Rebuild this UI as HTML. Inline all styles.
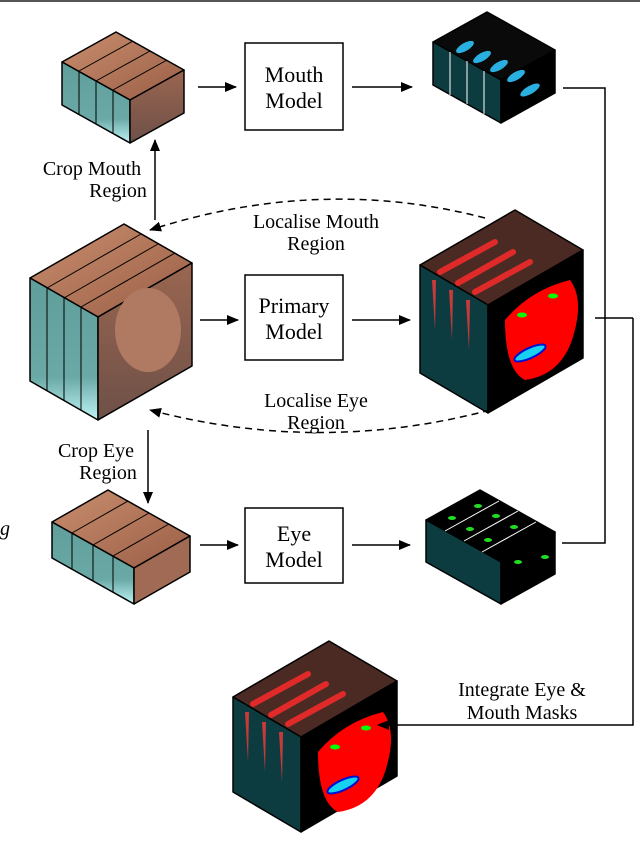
<!DOCTYPE html>
<html><head><meta charset="utf-8"><style>
body{margin:0;background:#fff;}
svg{display:block;font-family:"Liberation Serif",serif;}
</style></head><body>
<svg width="640" height="843" viewBox="0 0 640 843" xmlns="http://www.w3.org/2000/svg">
<defs>
<marker id="ar" markerWidth="12" markerHeight="10" refX="11" refY="5" orient="auto" markerUnits="userSpaceOnUse">
<path d="M0,0 L12,5 L0,10 Z" fill="#000"/></marker>
<linearGradient id="skin" x1="0" y1="0" x2="1" y2="1"><stop offset="0" stop-color="#c98d6e"/><stop offset="1" stop-color="#9a5e46"/></linearGradient>
<linearGradient id="teal" x1="0" y1="0" x2="0" y2="1"><stop offset="0" stop-color="#5f9e9a"/><stop offset="0.7" stop-color="#6aa9a6"/><stop offset="1" stop-color="#bff4f6"/></linearGradient>
<linearGradient id="face" x1="0" y1="0" x2="0" y2="1"><stop offset="0" stop-color="#9a6650"/><stop offset="1" stop-color="#6e5048"/></linearGradient>
</defs>
<line x1="0" y1="1" x2="640" y2="1" stroke="#555" stroke-width="2"/>
<text x="0" y="535" font-size="20" font-style="italic">g</text>

<!-- Input mouth cube L=62,T=62,a=68,b=38,w=54,c=30,h=43 -->
<g stroke="#000" stroke-width="1.5" stroke-linejoin="round">
<polygon points="62,62 130,100 184,70 116,32" fill="url(#skin)"/>
<polygon points="62,62 130,100 130,143 62,105" fill="url(#teal)"/>
<polygon points="130,100 184,70 184,113 130,143" fill="url(#face)"/>
<g stroke-width="1"><line x1="79" y1="71" x2="133" y2="41"/><line x1="96" y1="81" x2="150" y2="51"/><line x1="113" y1="90" x2="167" y2="60"/>
<line x1="79" y1="71" x2="79" y2="114"/><line x1="96" y1="81" x2="96" y2="124"/><line x1="113" y1="90" x2="113" y2="133"/></g>
</g>
<!-- Input primary cube L=30,T=278,a=68,b=39,w=94,c=54,h=103 -->
<g stroke="#000" stroke-width="1.5" stroke-linejoin="round">
<polygon points="30,278 98,317 192,263 124,224" fill="url(#skin)"/>
<polygon points="30,278 98,317 98,420 30,381" fill="url(#teal)"/>
<polygon points="98,317 192,263 192,366 98,420" fill="url(#face)"/>
<ellipse cx="148" cy="330" rx="33" ry="42" fill="#b07a62" stroke="none"/>
<g stroke-width="1"><line x1="47" y1="288" x2="141" y2="234"/><line x1="64" y1="298" x2="158" y2="244"/><line x1="81" y1="307" x2="175" y2="253"/>
<line x1="47" y1="288" x2="47" y2="391"/><line x1="64" y1="298" x2="64" y2="401"/><line x1="81" y1="307" x2="81" y2="410"/></g>
</g>
<!-- Input eye cube L=52,T=522,a=82,b=46,w=56,c=32,h=36 -->
<g stroke="#000" stroke-width="1.5" stroke-linejoin="round">
<polygon points="52,522 134,568 190,536 108,490" fill="url(#skin)"/>
<polygon points="52,522 134,568 134,604 52,558" fill="url(#teal)"/>
<polygon points="134,568 190,536 190,572 134,604" fill="#a06a55"/>
<g stroke-width="1"><line x1="72" y1="533" x2="128" y2="501"/><line x1="93" y1="545" x2="149" y2="513"/><line x1="113" y1="556" x2="169" y2="524"/>
<line x1="72" y1="533" x2="72" y2="569"/><line x1="93" y1="545" x2="93" y2="581"/><line x1="113" y1="556" x2="113" y2="592"/></g>
</g>

<!-- Output mouth cube L=433,T=42 -->
<g stroke="#000" stroke-width="1.5" stroke-linejoin="round">
<polygon points="433,42 501,80 555,50 487,12" fill="#0a0a0a"/>
<polygon points="433,42 501,80 501,123 433,85" fill="#0d3c40"/>
<polygon points="501,80 555,50 555,93 501,123" fill="#000"/>
<g fill="#2ab0e0" stroke="none"><ellipse cx="465" cy="47" rx="10" ry="4" transform="rotate(-30 465 47)"/><ellipse cx="482" cy="57" rx="10" ry="4" transform="rotate(-30 482 57)"/><ellipse cx="499" cy="66" rx="10" ry="4" transform="rotate(-30 499 66)"/><ellipse cx="516" cy="76" rx="10" ry="4" transform="rotate(-30 516 76)"/><ellipse cx="530" cy="90" rx="11" ry="4" transform="rotate(-30 530 90)"/></g>
<g stroke-width="1" stroke="#fff"><line x1="450" y1="52" x2="450" y2="95"/><line x1="467" y1="61" x2="467" y2="104"/><line x1="484" y1="71" x2="484" y2="114"/></g>
</g>
<!-- Output primary L=420,T=265,a=68,b=40,w=95,c=55,h=108 -->
<g stroke="#000" stroke-width="1.5" stroke-linejoin="round">
<polygon points="420,265 488,305 583,250 515,210" fill="#4a2a22"/>
<polygon points="420,265 488,305 488,413 420,373" fill="#0d3c40"/>
<polygon points="488,305 583,250 583,358 488,413" fill="#000"/>
<g stroke="#e02a2a" stroke-width="6" stroke-linecap="round" fill="none"><line x1="440" y1="272" x2="495" y2="242"/><line x1="458" y1="283" x2="513" y2="252"/><line x1="475" y1="292" x2="530" y2="262"/></g>
<g fill="#c83a3a" stroke="none"><path d="M432,280 l4,0 l-1,50 z"/><path d="M449,290 l4,0 l-1,50 z"/><path d="M466,300 l4,0 l-1,50 z"/></g>
<path d="M505,320 Q530,290 570,280 Q585,300 572,340 Q560,375 525,380 Q505,370 505,320 Z" fill="#ff0000" stroke="none"/>
<ellipse cx="530" cy="353" rx="17" ry="5" fill="#18d0f0" stroke="#0010d0" stroke-width="2" transform="rotate(-25 530 353)"/>
<ellipse cx="522" cy="315" rx="5" ry="2.5" fill="#0f0" stroke="none"/><ellipse cx="553" cy="296" rx="5" ry="2.5" fill="#0f0" stroke="none"/>
</g>
<!-- Output eye L=426,T=520,a=75,b=42,w=54,c=30,h=42 -->
<g stroke="#000" stroke-width="1.5" stroke-linejoin="round">
<polygon points="426,520 501,562 555,532 480,490" fill="#000"/>
<polygon points="426,520 501,562 501,604 426,562" fill="#0d3c40"/>
<polygon points="501,562 555,532 555,574 501,604" fill="#000"/>
<g stroke="#fff" stroke-width="1"><line x1="445" y1="531" x2="499" y2="501"/><line x1="464" y1="541" x2="518" y2="511"/><line x1="482" y1="552" x2="536" y2="522"/></g>
<g fill="#22dd22" stroke="none"><ellipse cx="452" cy="518" rx="4" ry="2"/><ellipse cx="478" cy="506" rx="4" ry="2"/><ellipse cx="470" cy="529" rx="4" ry="2"/><ellipse cx="496" cy="516" rx="4" ry="2"/><ellipse cx="488" cy="540" rx="4" ry="2"/><ellipse cx="514" cy="527" rx="4" ry="2"/><ellipse cx="518" cy="562" rx="4" ry="2"/><ellipse cx="545" cy="557" rx="4" ry="2"/></g>
</g>
<!-- Final L=233,T=697,a=68,b=40,w=96,c=56,h=95 -->
<g stroke="#000" stroke-width="1.5" stroke-linejoin="round">
<polygon points="233,697 301,737 397,681 329,641" fill="#4a2a22"/>
<polygon points="233,697 301,737 301,832 233,792" fill="#0d3c40"/>
<polygon points="301,737 397,681 397,776 301,832" fill="#000"/>
<g stroke="#e02a2a" stroke-width="6" stroke-linecap="round" fill="none"><line x1="253" y1="704" x2="308" y2="674"/><line x1="271" y1="715" x2="326" y2="684"/><line x1="288" y1="724" x2="343" y2="694"/></g>
<g fill="#c83a3a" stroke="none"><path d="M245,712 l4,0 l-1,50 z"/><path d="M262,722 l4,0 l-1,50 z"/><path d="M279,732 l4,0 l-1,50 z"/></g>
<path d="M318,752 Q343,722 383,712 Q398,732 385,772 Q373,807 338,812 Q318,802 318,752 Z" fill="#ff0000" stroke="none"/>
<ellipse cx="343" cy="785" rx="17" ry="5" fill="#18d0f0" stroke="#0010d0" stroke-width="2" transform="rotate(-25 343 785)"/>
<ellipse cx="335" cy="747" rx="5" ry="2.5" fill="#0f0" stroke="none"/><ellipse cx="366" cy="728" rx="5" ry="2.5" fill="#0f0" stroke="none"/>
</g>

<!-- Boxes -->
<g fill="#fff" stroke="#000" stroke-width="1.5">
<rect x="245" y="43" width="98" height="87"/>
<rect x="245" y="275" width="98" height="85"/>
<rect x="245" y="508" width="98" height="75"/>
</g>
<g font-size="22" text-anchor="middle">
<text x="294" y="82">Mouth</text><text x="294" y="108">Model</text>
<text x="294" y="313">Primary</text><text x="294" y="339">Model</text>
<text x="294" y="541">Eye</text><text x="294" y="567">Model</text>
</g>
<!-- Arrows -->
<g stroke="#000" stroke-width="1.5" fill="none" marker-end="url(#ar)">
<line x1="198" y1="87" x2="236" y2="87"/><line x1="352" y1="87" x2="412" y2="87"/>
<line x1="200" y1="320" x2="238" y2="320"/><line x1="352" y1="320" x2="410" y2="320"/>
<line x1="200" y1="545" x2="238" y2="545"/><line x1="352" y1="545" x2="410" y2="545"/>
<line x1="155" y1="220" x2="155" y2="140"/>
<line x1="148" y1="430" x2="148" y2="503"/>
<path d="M485,218 Q320,175 150,230" stroke-dasharray="7,5"/>
<path d="M490,410 Q320,455 150,410" stroke-dasharray="7,5"/>
<polyline points="633,318 633,725 378,725"/>
</g>
<g stroke="#000" stroke-width="1.5" fill="none">
<polyline points="563,88 605,88 605,543 562,543"/>
<line x1="595" y1="318" x2="633" y2="318"/>
</g>
<g font-size="20" text-anchor="middle">
<text x="92" y="175">Crop Mouth</text><text x="118" y="197">Region</text>
<text x="96" y="457">Crop Eye</text><text x="108" y="479">Region</text>
<text x="316" y="228">Localise Mouth</text><text x="316" y="250">Region</text>
<text x="316" y="407">Localise Eye</text><text x="316" y="429">Region</text>
<text x="522" y="696">Integrate Eye &amp;</text><text x="522" y="719">Mouth Masks</text>
</g>
</svg>
</body></html>
